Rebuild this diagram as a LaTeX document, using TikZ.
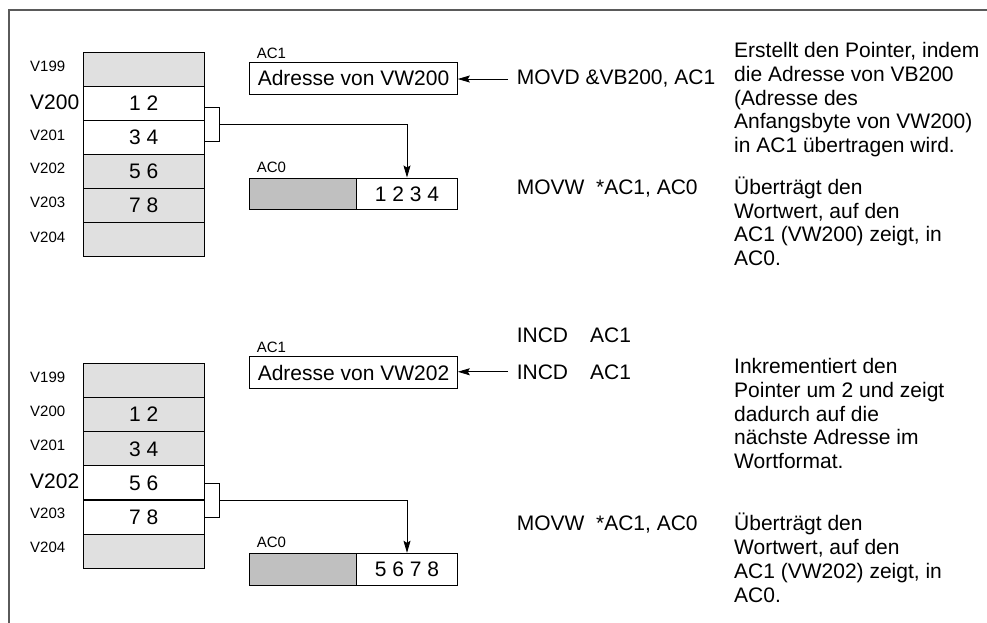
\documentclass[tikz,border=0pt]{standalone}
\usepackage{fontspec}
\setmainfont{Liberation Sans}
\usetikzlibrary{arrows.meta,calc}
\newcommand\topstrut{\rule{0pt}{20pt}}
\definecolor{lg}{RGB}{224,224,224}
\definecolor{dg}{RGB}{192,192,192}
\definecolor{framegray}{RGB}{90,90,90}
\begin{document}
\begin{tikzpicture}[x=1pt,y=-1pt,
  big/.style={font=\fontsize{21}{23.8}\selectfont},
  small/.style={font=\fontsize{15}{18}\selectfont},
  cell/.style={draw, line width=1pt, minimum width=121pt, minimum height=34.1pt, inner sep=0pt, big},
  lab/.style={small, anchor=west, inner sep=0pt},
  acbox/.style={draw, line width=1pt, fill=white, minimum width=207.6pt, minimum height=32pt, inner sep=0pt, big},
  acleft/.style={draw, line width=1pt, fill=dg, minimum width=107pt, minimum height=31.7pt, inner sep=0pt},
  acright/.style={draw, line width=1pt, fill=white, minimum width=100.6pt, minimum height=31.7pt, inner sep=0pt, big},
  instr/.style={big, anchor=base west, inner xsep=8.6pt, inner ysep=0pt},
  desc/.style={big, anchor=north west, align=left, inner sep=0pt},
  arr/.style={-{Stealth[length=12pt,width=7pt,inset=2pt]}, line width=0.8pt},
  conn/.style={line width=0.8pt},
  frameline/.style={draw=framegray, line width=1.6pt}
]
\useasboundingbox (0,0) rectangle (987,623);
\draw[frameline] (9,623) -- (9,10) -- (987,10);

% ---------- top half ----------
\node[cell, fill=lg]    (t199) at (143.8,69.35) {};
\node[cell, fill=white] (t200) at (143.8,103.45) {1 2};
\node[cell, fill=white] (t201) at (143.8,137.55) {3 4};
\node[cell, fill=lg]    (t202) at (143.8,171.65) {5 6};
\node[cell, fill=lg]    (t203) at (143.8,205.75) {7 8};
\node[cell, fill=lg]    (t204) at (143.8,239.85) {};

\node[lab] (lt199) at (30,66) {V199};
\node[lab, big] (lt200) at (30,102.7) {V200};
\node[lab] (lt201) at (30,135) {V201};
\node[lab] (lt202) at (30,168) {V202};
\node[lab] (lt203) at (30,202) {V203};
\node[lab] (lt204) at (30,237) {V204};

\node[lab] (tac1l) at (256.7,53.3) {AC1};
\node[acbox] (tac1) at (353.5,78.3) {Adresse von VW200};
\node[lab] (tac0l) at (256.7,167) {AC0};
\node[acleft]  (tac0a) at (303.2,193.85) {};
\node[acright] (tac0b) at (407,193.85) {1 2 3 4};

\draw[conn] ([yshift=-4.3pt]t200.east) -| coordinate[pos=0.75] (tbm) ([xshift=15pt,yshift=-4.3pt]t201.east) -- ([yshift=-4.3pt]t201.east);
\draw[arr] (tbm) -| (tac0b.north);

\node[instr] (tmovd) at (508,85) {MOVD \&VB200, AC1};
\draw[arr] (tmovd.west) -- (tmovd.west -| tac1.east);
\node[instr] (tmovw) at (508,194) {MOVW~~*AC1, AC0};

\node[desc] (td1) at (734,37.3) {\topstrut Erstellt den Pointer, indem\\die Adresse von VB200\\(Adresse des\\Anfangsbyte von VW200)\\in AC1 übertragen wird.};
\node[desc] (td2) at (734,174) {\topstrut Überträgt den\\Wortwert, auf den\\AC1 (VW200) zeigt, in\\AC0.};

% ---------- bottom half ----------
\node[cell, fill=lg]    (b199) at (143.8,380.4) {};
\node[cell, fill=lg]    (b200) at (143.8,414.6) {1 2};
\node[cell, fill=lg]    (b201) at (143.8,448.8) {3 4};
\node[cell, fill=white] (b202) at (143.8,482.9) {5 6};
\node[cell, fill=white] (b203) at (143.8,517.1) {7 8};
\node[cell, fill=lg]    (b204) at (143.8,551.3) {};

\node[lab] (lb199) at (30,377.3) {V199};
\node[lab] (lb200) at (30,411.7) {V200};
\node[lab] (lb201) at (30,445.7) {V201};
\node[lab, big] (lb202) at (30,481.7) {V202};
\node[lab] (lb203) at (30,513.3) {V203};
\node[lab] (lb204) at (30,547.7) {V204};

\node[lab] (bac1l) at (256.7,347) {AC1};
\node[acbox] (bac1) at (353.5,372.5) {Adresse von VW202};
\node[lab] (bac0l) at (256.7,542.8) {AC0};
\node[acleft]  (bac0a) at (303.2,569.15) {};
\node[acright] (bac0b) at (407,569.15) {5 6 7 8};

\draw[conn] ([yshift=-0.2pt]b202.east) -| coordinate[pos=0.75] (bbm) ([xshift=15pt,yshift=-0.2pt]b203.east) -- ([yshift=-0.2pt]b203.east);
\draw[arr] (bbm) -| (bac0b.north);

\node[instr] (binc1) at (508,342.7) {INCD\hspace{22pt}AC1};
\node[instr] (binc2) at (508,379) {INCD\hspace{22pt}AC1};
\draw[arr] (binc2.west) -- (binc2.west -| bac1.east);
\node[instr] (bmovw) at (508,530.7) {MOVW~~*AC1, AC0};

\node[desc] (bd1) at (734,353.3) {\topstrut Inkrementiert den\\Pointer um 2 und zeigt\\dadurch auf die\\nächste Adresse im\\Wortformat.};
\node[desc] (bd2) at (734,510.7) {\topstrut Überträgt den\\Wortwert, auf den\\AC1 (VW202) zeigt, in\\AC0.};
\end{tikzpicture}
\end{document}
